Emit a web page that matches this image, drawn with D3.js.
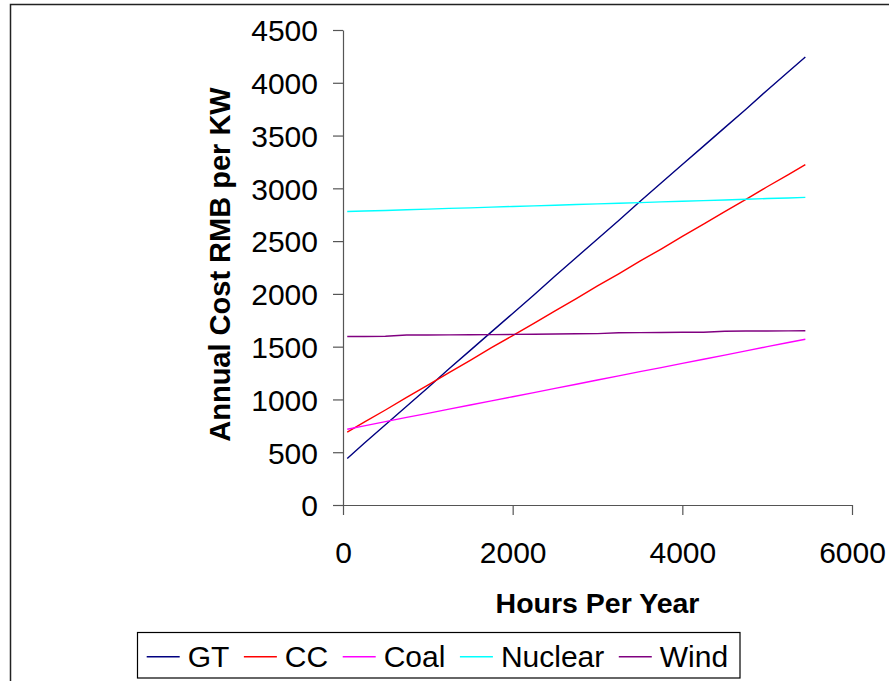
<!DOCTYPE html>
<html>
<head>
<meta charset="utf-8">
<script src="https://cdn.jsdelivr.net/npm/d3@7"></script>
<style>
  html, body { margin: 0; padding: 0; background: #fff; }
  svg { display: block; font-family: "Liberation Sans", Arial, sans-serif; }
</style>
</head>
<body>
<svg id="chart" width="889" height="681"></svg>
<script>
// Operating hours per year (x values)
const hours = [50, 250, 500, 750, 1000, 1250, 1500, 1750, 2000, 2250, 2500, 2750,
               3000, 3250, 3500, 3750, 4000, 4250, 4500, 4750, 5000, 5250, 5450];

// Annual cost (RMB per kW) for each generation technology
const gtCost = [440, 585, 760, 935, 1110, 1290, 1465, 1640, 1815, 1990, 2170, 2345,
                2520, 2695, 2875, 3050, 3225, 3400, 3575, 3750, 3930, 4105, 4245];
const ccCost = [690, 785, 900, 1020, 1135, 1255, 1370, 1490, 1605, 1720, 1840, 1955,
                2075, 2190, 2310, 2425, 2545, 2660, 2780, 2895, 3015, 3130, 3225];
const coalCost = [718, 750, 790, 830, 868, 908, 947, 986, 1026, 1065, 1105, 1144,
                  1184, 1223, 1263, 1302, 1342, 1381, 1420, 1460, 1500, 1539, 1570];
const nuclearCost = [2780, 2785, 2790, 2797, 2803, 2810, 2815, 2822, 2828, 2834, 2840, 2847,
                     2853, 2859, 2865, 2872, 2878, 2884, 2890, 2897, 2903, 2909, 2914];
const windCost = [1597, 1597, 1598, 1610, 1611, 1612, 1613, 1614, 1616, 1618, 1620, 1622,
                  1624, 1632, 1633, 1634, 1636, 1637, 1646, 1648, 1649, 1650, 1651];

const seriesNames = ["GT", "CC", "Coal", "Nuclear", "Wind"];
const seriesColors = ["#000080", "#FF0000", "#FF00FF", "#00FFFF", "#800080"];
const seriesValues = [gtCost, ccCost, coalCost, nuclearCost, windCost];

const xTicks = [0, 2000, 4000, 6000];
const yTicks = [0, 500, 1000, 1500, 2000, 2500, 3000, 3500, 4000, 4500];

const xTitle = "Hours Per Year";
const yTitle = "Annual Cost RMB per KW";

const svg = d3.select("#chart");

// outer frame (top and left edges)
svg.append("path")
  .attr("d", "M10.5,681 L10.5,4.5 L889,4.5")
  .attr("fill", "none")
  .attr("stroke", "#222")
  .attr("stroke-width", 1.5);

const x = d3.scaleLinear().domain([0, 6000]).range([343, 852]);
const y = d3.scaleLinear().domain([0, 4500]).range([505, 30]);

// axes
const xAxis = svg.append("g")
  .attr("transform", `translate(0,${y(0)})`)
  .call(d3.axisBottom(x).tickValues(xTicks).tickFormat(d3.format("d"))
    .tickSize(10).tickSizeOuter(0).tickPadding(27));
const yAxis = svg.append("g")
  .attr("transform", `translate(${x(0)},0)`)
  .call(d3.axisLeft(y).tickValues(yTicks).tickFormat(d3.format("d"))
    .tickSize(10).tickSizeOuter(0).tickPadding(15));

[xAxis, yAxis].forEach(g => {
  g.select(".domain").attr("stroke", "#555").attr("stroke-width", 1.2);
  g.selectAll(".tick line").attr("stroke", "#555").attr("stroke-width", 1.2);
  g.selectAll(".tick text")
    .attr("fill", "#000")
    .style("font-size", "30px")
    .style("font-family", "'Liberation Sans', Arial, sans-serif");
});
yAxis.selectAll(".tick text").attr("dy", "0.36em");

// series lines
const line = d3.line()
  .x((d, i) => x(hours[i]))
  .y(d => y(d));

seriesValues.forEach((vals, k) => {
  svg.append("path")
    .datum(vals)
    .attr("fill", "none")
    .attr("stroke", seriesColors[k])
    .attr("stroke-width", 1.4)
    .attr("d", line);
});

// axis titles
svg.append("text")
  .attr("x", (x(0) + x(6000)) / 2)
  .attr("y", 612.5)
  .attr("text-anchor", "middle")
  .style("font-size", "28.5px")
  .style("font-weight", "bold")
  .text(xTitle);

svg.append("text")
  .attr("transform", `translate(230,${(y(0) + y(4500)) / 2 - 3}) rotate(-90)`)
  .attr("text-anchor", "middle")
  .style("font-size", "29px")
  .style("font-weight", "bold")
  .text(yTitle);

// legend
const legend = svg.append("g");
legend.append("rect")
  .attr("x", 137.5).attr("y", 632.5)
  .attr("width", 602.5).attr("height", 45.5)
  .attr("fill", "#fff")
  .attr("stroke", "#000")
  .attr("stroke-width", 1.2);

let cx = 146.7;
seriesNames.forEach((name, k) => {
  legend.append("line")
    .attr("x1", cx).attr("x2", cx + 33)
    .attr("y1", 656.7).attr("y2", 656.7)
    .attr("stroke", seriesColors[k])
    .attr("stroke-width", 1.4);
  const t = legend.append("text")
    .attr("x", cx + 41)
    .attr("y", 666.7)
    .style("font-size", "30px")
    .text(name);
  cx = cx + 41 + t.node().getComputedTextLength() + 14.5;
});
</script>
</body>
</html>
